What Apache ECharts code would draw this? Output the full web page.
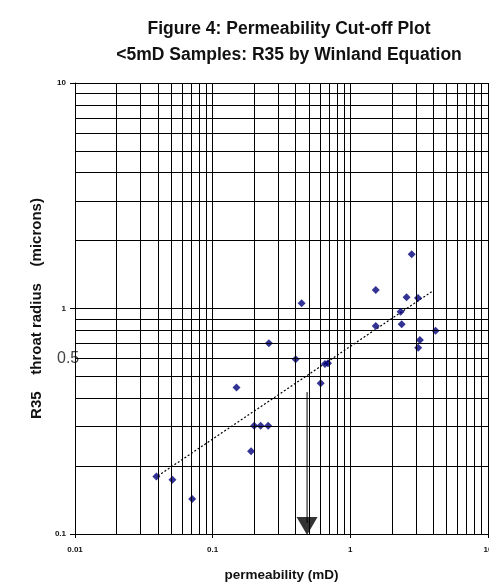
<!DOCTYPE html>
<html><head><meta charset="utf-8">
<script src="https://cdn.jsdelivr.net/npm/echarts@6/dist/echarts.min.js"></script>
<style>html,body{margin:0;padding:0;background:#fff;overflow:hidden}#c{width:489px;height:582px}</style>
</head><body><div id="c"></div>
<script>
// permeability (mD) vs R35 throat radius (microns)
const permeability = [0.039,0.051,0.071,0.149,0.190,0.200,0.223,0.253,0.256,0.401,0.443,0.609,0.654,0.688,1.53,1.53,2.32,2.36,2.56,2.79,3.10,3.20,3.11,4.16];
const r35 = [0.180,0.174,0.143,0.446,0.233,0.302,0.302,0.302,0.701,0.595,1.055,0.466,0.568,0.572,1.208,0.836,0.968,0.851,1.121,1.739,1.113,0.725,0.670,0.797];
// Winland trend line end points
const trendX = [0.04, 4];
const trendY = [0.181, 1.20];
// cut-off arrow
const arrowX = 0.485;
const arrowShaftY = [0.426, 0.112];
const arrowHeadY = 0.1085;
// minor grid positions
const xMinor = [0.02,0.03,0.04,0.05,0.06,0.07,0.08,0.09,0.2,0.3,0.4,0.5,0.6,0.7,0.8,0.9,2,3,4,5,6,7,8,9];
const yMinor = [0.2,0.3,0.4,0.5,0.6,0.7,0.8,0.9,2,3,4,5,6,7,8,9];

const font = 'Liberation Sans, Arial, sans-serif';
const chart = echarts.init(document.getElementById('c'), null, {renderer:'canvas'});
const gridLine = {color:'#000', width:1, type:'solid'};
chart.setOption({
  animation:false,
  backgroundColor:'#fff',
  title:{
    text:'Figure 4: Permeability Cut-off Plot\n<5mD Samples: R35 by Winland Equation',
    left:284, top:11, textAlign:'center',
    textStyle:{fontFamily:font, fontSize:17.5, fontWeight:'bold', color:'#111', lineHeight:26}
  },
  grid:{left:75, right:1, top:83, bottom:48, containLabel:false, outerBoundsMode:'none'},
  xAxis:{
    type:'log', logBase:10, min:0.01, max:10,
    name:'permeability (mD)', nameLocation:'middle', nameGap:34,
    nameTextStyle:{fontFamily:font, fontSize:13.5, fontWeight:'bold', color:'#111'},
    axisLine:{lineStyle:{color:'#000', width:1}},
    axisTick:{show:true, length:4, lineStyle:{color:'#000'}},
    axisLabel:{fontFamily:font, fontSize:8, fontWeight:'bold', color:'#111', margin:12},
    splitLine:{show:true, lineStyle:gridLine}
  },
  yAxis:{
    type:'log', logBase:10, min:0.1, max:10,
    name:'R35    throat radius    (microns)', nameLocation:'middle', nameGap:28, nameRotate:90,
    nameTextStyle:{fontFamily:font, fontSize:15, fontWeight:'bold', color:'#111'},
    axisLine:{lineStyle:{color:'#000', width:1}},
    axisTick:{show:true, length:5, lineStyle:{color:'#000'}},
    axisLabel:{fontFamily:font, fontSize:8, fontWeight:'bold', color:'#111', margin:9},
    splitLine:{show:true, lineStyle:gridLine}
  },
  graphic:[{
    type:'text', left:57, top:351,
    style:{text:'0.5', fontFamily:font, fontSize:16, fill:'#444'}
  }],
  series:[
    {
      type:'line', z:1, data:[], silent:true,
      markLine:{
        silent:true, symbol:['none','none'], label:{show:false},
        lineStyle:gridLine, animation:false,
        data: xMinor.map(v=>({xAxis:v})).concat(yMinor.map(v=>({yAxis:v})))
      }
    },
    {
      type:'line', z:3, showSymbol:false, symbol:'none',
      data: trendX.map((x,i)=>[x, trendY[i]]),
      lineStyle:{color:'#000', width:1.2, type:[2,2]}
    },
    {
      type:'scatter', z:4, symbol:'diamond', symbolSize:8,
      itemStyle:{color:'#00007a'},
      data: permeability.map((x,i)=>[x, r35[i]])
    },
    {
      type:'line', z:4, showSymbol:false, symbol:'none',
      data: arrowShaftY.map(y=>[arrowX, y]),
      lineStyle:{color:'#000', width:1}
    },
    {
      type:'scatter', z:5, symbol:'triangle', symbolRotate:180, symbolSize:[21,18],
      itemStyle:{color:'#000'},
      data:[[arrowX, arrowHeadY]]
    }
  ]
});
</script></body></html>
